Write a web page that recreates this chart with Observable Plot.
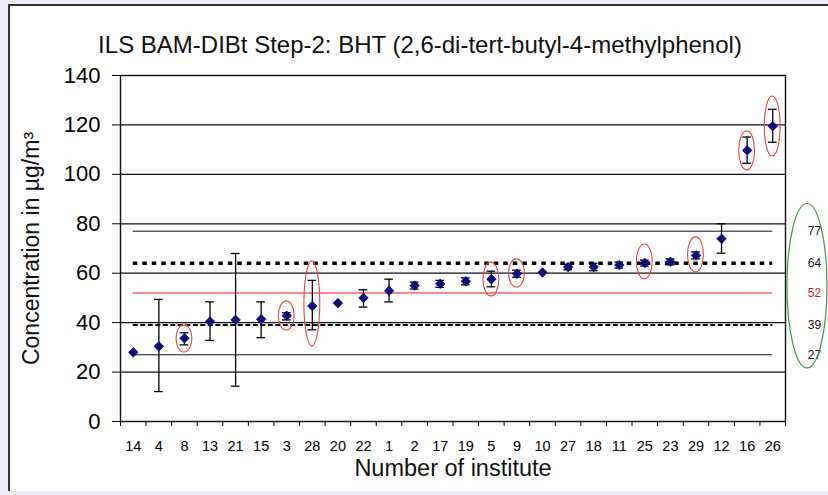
<!DOCTYPE html>
<html><head><meta charset="utf-8">
<script src="https://cdn.jsdelivr.net/npm/d3@7"></script>
<script src="https://cdn.jsdelivr.net/npm/@observablehq/plot@0.6"></script>
<style>
html,body{margin:0;padding:0;background:#ececf9;}
#wrap{position:relative;width:828px;height:495px;overflow:hidden;background:#ececf9;}
#panel{position:absolute;left:8px;top:4px;width:840px;height:485px;background:#fff;border-left:2px solid #333;border-top:2px solid #333;}
#chart{position:absolute;left:0;top:0;}
</style></head><body>
<div id="wrap"><div id="panel"></div><div id="chart"></div></div>
<script>
// ---- data ----
const institutes = ["14","4","8","13","21","15","3","28","20","22","1","2","17","19","5","9","10","27","18","11","25","23","29","12","16","26"];
const values    = [28.0,30.4,33.7,40.5,41.1,41.4,42.8,46.7,47.9,50.0,52.9,55.0,55.7,56.7,57.6,59.8,60.3,62.5,62.5,63.3,64.1,64.6,67.2,73.9,109.7,119.5];
const errLow    = [null,12.1,31.0,32.8,14.3,33.9,41.1,37.1,null,46.3,48.4,53.6,54.3,55.3,54.5,58.4,null,61.4,61.0,62.1,62.9,63.4,65.8,68.1,104.5,113.0];
const errHigh   = [null,49.4,35.9,48.4,68.0,48.4,44.0,57.1,null,53.3,57.6,56.4,57.1,58.1,60.8,61.2,null,63.6,64.0,64.5,65.3,65.8,68.6,80.0,115.1,126.3];
const refValues = [77, 64, 52, 39, 27];
const outlierInstitutes = ["8","3","28","5","9","25","29","16","26"];
const outlierLow  = [27.9,36.8,30.4,50.6,54.2,57.5,60.3,101.6,107.2];
const outlierHigh = [38.9,48.6,64.8,64.3,65.6,71.6,74.5,117.4,131.5];
const yTicks = [0,20,40,60,80,100,120,140];
const title = "ILS BAM-DIBt Step-2: BHT (2,6-di-tert-butyl-4-methylphenol)";
const yLabel = "Concentration in µg/m³";
const xLabel = "Number of institute";

const rows = institutes.map((name, i) => ({i, name, v: values[i], lo: errLow[i], hi: errHigh[i]}));
const bars = rows.filter(d => d.lo != null);
const n = institutes.length;
const boundaries = d3.range(n + 1).map(k => k - 0.5);
const capHalf = 0.17;
const font = "Liberation Sans, Arial, sans-serif";

const plot = Plot.plot({
  width: 828, height: 495,
  marginLeft: 120, marginRight: 43, marginTop: 75, marginBottom: 74,
  style: {fontFamily: font, background: "transparent", color: "#000", overflow: "visible"},
  x: {type: "linear", domain: [-0.5, n - 0.5]},
  y: {domain: [0, 140]},
  marks: [
    Plot.ruleY(yTicks.filter(t => t > 0), {stroke: "#111", strokeWidth: 1.2}),
    Plot.frame({stroke: "#111", strokeWidth: 1.4}),
    Plot.axisY({ticks: yTicks, tickSize: 8, tickPadding: 12, fontSize: 22, label: null, tickFormat: d => d}),
    Plot.axisX({ticks: boundaries, tickSize: 5, tickFormat: () => "", label: null}),
    Plot.axisX({ticks: d3.range(n), tickSize: 0, tickPadding: 19, fontSize: 14.5, label: null, tickFormat: i => institutes[i]}),
    // reference lines
    Plot.ruleY([refValues[0]], {x1: 0, x2: n - 1, stroke: "#111", strokeWidth: 1}),
    Plot.ruleY([refValues[1]], {x1: 0, x2: n - 1, stroke: "#000", strokeWidth: 3.5, strokeDasharray: "4.5 5"}),
    Plot.ruleY([refValues[2]], {x1: 0, x2: n - 1, stroke: "#e8141b", strokeWidth: 1}),
    Plot.ruleY([refValues[3]], {x1: 0, x2: n - 1, stroke: "#000", strokeWidth: 2, strokeDasharray: "5 2.5"}),
    Plot.ruleY([refValues[4]], {x1: 0, x2: n - 1, stroke: "#111", strokeWidth: 1}),
    // error bars
    Plot.ruleX(bars, {x: "i", y1: "lo", y2: "hi", stroke: "#000", strokeWidth: 1.3}),
    Plot.ruleY(bars, {y: "lo", x1: d => d.i - capHalf, x2: d => d.i + capHalf, stroke: "#000", strokeWidth: 1.3}),
    Plot.ruleY(bars, {y: "hi", x1: d => d.i - capHalf, x2: d => d.i + capHalf, stroke: "#000", strokeWidth: 1.3}),
    // points
    Plot.dot(rows, {x: "i", y: "v", symbol: "diamond2", r: 4.3, fill: "#0a0a7a", stroke: "#0a0a7a", strokeWidth: 0.8}),
    // value labels at right
    Plot.text(refValues, {y: d => d, frameAnchor: "right", dx: 29, textAnchor: "middle", fontSize: 12,
      fill: d => d === refValues[2] ? "#e8141b" : "#111"}),
    // texts
    Plot.text([title], {frameAnchor: "top", textAnchor: "middle", dx: -33, dy: -40, fontSize: 24, fill: "#111"}),
    Plot.text([yLabel], {frameAnchor: "left", textAnchor: "middle", dx: -89, dy: 0, rotate: -90, fontSize: 23, fill: "#111"}),
    Plot.text([xLabel], {frameAnchor: "bottom", textAnchor: "middle", dx: 0, dy: 54, fontSize: 23.5, fill: "#111"})
  ]
});

// ellipses around outliers (annotations positioned by the plot scales)
const sx = plot.scale("x").apply, sy = plot.scale("y").apply;
const g = d3.select(plot).append("g").attr("fill", "none");
g.selectAll("ellipse.o").data(outlierInstitutes).join("ellipse")
  .attr("cx", d => sx(institutes.indexOf(d)))
  .attr("cy", (d, k) => (sy(outlierLow[k]) + sy(outlierHigh[k])) / 2)
  .attr("rx", sx(0.31) - sx(0))
  .attr("ry", (d, k) => Math.abs(sy(outlierLow[k]) - sy(outlierHigh[k])) / 2)
  .attr("stroke", "#e8453f").attr("stroke-width", 1.1);
g.append("ellipse")
  .attr("cx", sx(n - 0.5) + 22)
  .attr("cy", (sy(88) + sy(21.5)) / 2)
  .attr("rx", 20)
  .attr("ry", (sy(21.5) - sy(88)) / 2)
  .attr("stroke", "#3c9a3c").attr("stroke-width", 1.2);

document.getElementById("chart").appendChild(plot);
</script>
</body></html>
